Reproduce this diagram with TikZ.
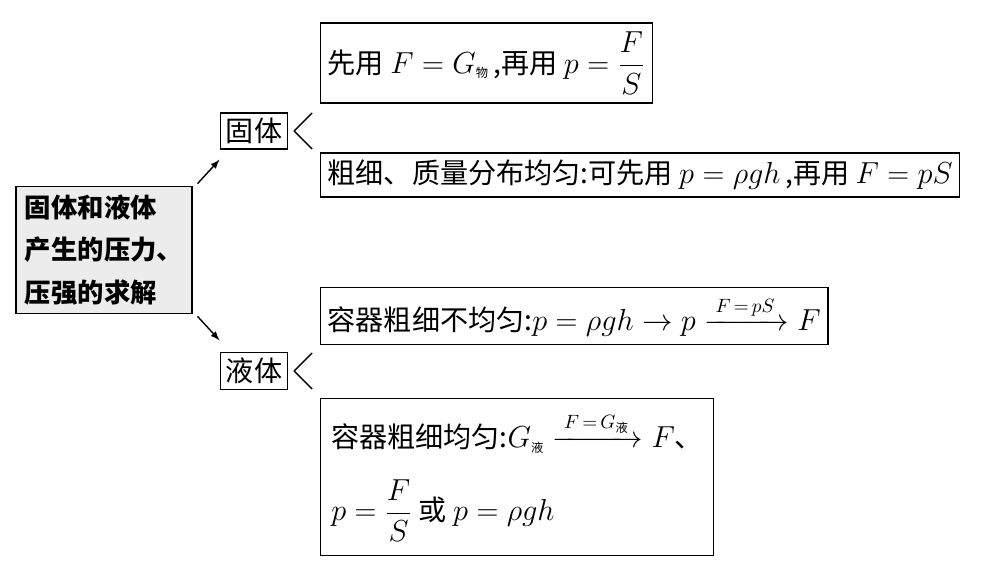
\documentclass[tikz,border=0pt]{standalone}
\usepackage{amsmath}
\usepackage{fontspec}
\setmainfont{Noto Sans CJK SC}
\newcommand{\zh}[1]{\text{\normalfont\scriptsize #1}}
\usetikzlibrary{positioning}
\tikzset{
  conbox/.style={draw=black,thick,inner sep=4pt,anchor=west,font=\fontsize{16}{19}\selectfont},
  kind/.style={draw=black,thick,inner sep=3pt,font=\fontsize{16}{19}\selectfont},
  brace/.style={draw=black,thick,line join=round},
}
\begin{document}
\begin{tikzpicture}[x=0.02cm,y=-0.02cm]
  \useasboundingbox (0,0) rectangle (1000,580);
  % main topic
  \node[draw=black,thick,fill=gray!15,align=left,inner sep=5pt,font=\bfseries\fontsize{15}{24}\selectfont] (topic) at (104,250)
    {固体和液体\\产生的压力、\\压强的求解};
  \node[kind] (solid) at (254,131) {固体};
  \node[kind] (liquid) at (254,371) {液体};
  \draw[thick,->,>=latex] (topic.north east) ++(5,-2) -- ++(22,-24);
  \draw[thick,->,>=latex] (topic.south east) ++(5,2) -- ++(22,24);
  % solid branch
  \node[conbox,minimum height=1.6cm] (s1) at (320,63)
    {先用 $F = G_{\zh{物}}$\,,再用 $p = \dfrac{F}{S}$\quad};
  \node[conbox] (s2) at (320,175)
    {粗细、质量分布均匀:可先用 $p = \rho g h$\,,再用 $F = pS$};
  % liquid branch
  \node[conbox,minimum height=1.15cm] (l1) at (320,316)
    {容器粗细不均匀:$p = \rho g h \rightarrow p \xrightarrow{\;F\,=\,pS\;} F$\quad};
  \node[conbox,align=left,inner sep=6pt,minimum height=3.14cm] (l2) at (320,477)
    {容器粗细均匀:$G_{\zh{液}} \xrightarrow{\;F\,=\,G_{\zh{液}}\;} F$、\\[14pt]
     $p = \dfrac{F}{S}$ 或 $p = \rho g h$\qquad\qquad};
  % braces
  \draw[brace] (solid.east) ++(24,-18) .. controls ++(-8,8) .. ++(-18,18) .. controls ++(8,8) .. ++(18,18);
  \draw[brace] (liquid.east) ++(24,-18) .. controls ++(-8,8) .. ++(-18,18) .. controls ++(8,8) .. ++(18,18);
\end{tikzpicture}
\end{document}
